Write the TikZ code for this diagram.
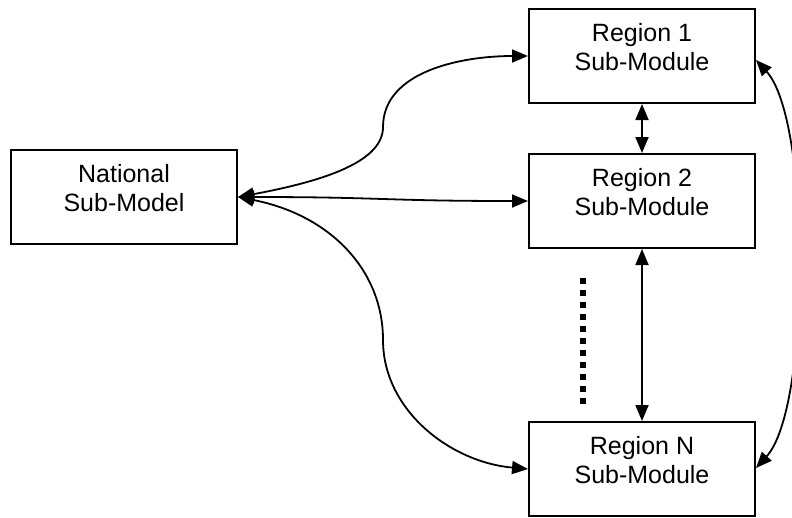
\documentclass[tikz,border=0pt]{standalone}
\usepackage{fontspec}
\setmainfont{Liberation Sans}
\usetikzlibrary{arrows.meta}
\begin{document}
\begin{tikzpicture}[x=1pt,y=-1pt,
  box/.style={draw, line width=2pt, minimum width=226pt, minimum height=94pt, inner sep=0pt},
  txt/.style={align=center, font=\fontsize{25}{29}\selectfont, inner sep=0pt, yshift=9pt},
  conn/.style={line width=1.8pt, {Triangle[length=16pt,width=13pt]}-{Triangle[length=16pt,width=13pt]}}]
\useasboundingbox (0,0) rectangle (792,517);
\node[box, label={[txt]center:{National\\Sub-Model}}] (nat) at (124,197) {};
\node[box, label={[txt]center:{Region 1\\Sub-Module}}] (r1) at (642,56) {};
\node[box, label={[txt]center:{Region 2\\Sub-Module}}] (r2) at (642,201) {};
\node[box, label={[txt]center:{Region N\\Sub-Module}}] (rN) at (642,469) {};
% national to regions
\draw[conn] (nat.east) .. controls (330,180) and (383,160) .. (383,127)
  .. controls (383,72) and (460,56) .. (r1.west);
\draw[conn] (nat.east) .. controls (383,197) and (383,201) .. (r2.west);
\draw[conn] (nat.east) .. controls (330,215) and (383,270) .. (383,340)
  .. controls (383,410) and (450,462) .. (rN.west);
% vertical links
\draw[conn] (r1.south) -- (r2.north);
\draw[conn] (r2.south) -- (rN.north);
% right loop
\draw[conn] ([yshift=-4pt]r1.east) .. controls (811,120) and (811,408) .. ([yshift=1pt]rN.east);
% dotted ellipsis
\coordinate (d1) at (583,278);
\coordinate (d2) at (583,404);
\draw[line width=6pt, dash pattern=on 6pt off 6pt] (d1) -- (d2);
\end{tikzpicture}
\end{document}
